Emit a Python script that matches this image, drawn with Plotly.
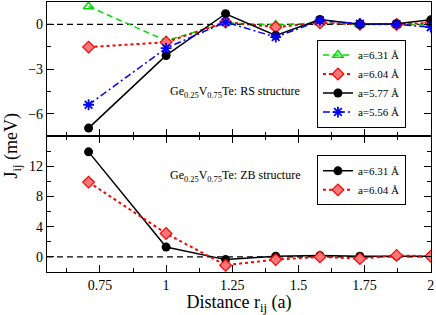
import plotly.graph_objects as go

# ---------------- data ----------------
distance = [0.7071, 1.0, 1.2247, 1.4142, 1.5811, 1.7321, 1.8708, 2.0]

# RS structure (top panel)
rs_a631 = [1.2, -1.1, 0.1, -0.05, 0.1, 0.0, 0.0, -0.05]
rs_a604 = [-1.53, -1.2, 0.15, -0.19, 0.1, 0.0, 0.0, 0.1]
rs_a577 = [-6.97, -2.09, 0.71, -0.74, 0.33, 0.0, 0.04, 0.3]
rs_a556 = [-5.4, -1.6, 0.15, -0.86, 0.26, 0.04, 0.0, -0.19]

# ZB structure (bottom panel)
zb_a631 = [13.9, 1.3, -0.36, 0.08, 0.17, 0.08, 0.1, 0.1]
zb_a604 = [9.9, 3.1, -1.1, -0.36, 0.0, -0.23, 0.2, 0.08]

x_tickvals = [0.75, 1.0, 1.25, 1.5, 1.75, 2.0]
x_ticktext = ["0.75", "1", "1.25", "1.5", "1.75", "2"]
x_minor = [0.625, 0.875, 1.125, 1.375, 1.625, 1.875]
top_tickvals = [-6, -3, 0]
top_minor = [-7.5, -4.5, -1.5, 1.5]
bot_tickvals = [0, 4, 8, 12]
bot_minor = [-2, 2, 6, 10, 14]

FONT = "Liberation Serif"
GREEN = "rgb(0,220,0)"
RED = "rgb(255,0,0)"
BLUE = "rgb(0,0,255)"

fig = go.Figure()

# top panel traces
fig.add_trace(go.Scatter(x=distance, y=rs_a631, name="a=6.31 Å", xaxis="x2", yaxis="y2",
    mode="lines+markers", line=dict(color=GREEN, width=1.5, dash="6px,4px"),
    marker=dict(symbol="triangle-up-open", size=9, color=GREEN, line=dict(width=1.5, color=GREEN)),
    legend="legend"))
fig.add_trace(go.Scatter(x=distance, y=rs_a604, name="a=6.04 Å", xaxis="x2", yaxis="y2",
    mode="lines+markers", line=dict(color=RED, width=2, dash="dot"),
    marker=dict(symbol="diamond", size=9, color="rgb(255,120,120)", line=dict(width=1.2, color=RED)),
    legend="legend"))
fig.add_trace(go.Scatter(x=distance, y=rs_a577, name="a=5.77 Å", xaxis="x2", yaxis="y2",
    mode="lines+markers", line=dict(color="black", width=1.5),
    marker=dict(symbol="circle", size=9, color="black"),
    legend="legend"))
fig.add_trace(go.Scatter(x=distance, y=rs_a556, name="a=5.56 Å", xaxis="x2", yaxis="y2",
    mode="lines+markers", line=dict(color=BLUE, width=1.5, dash="7px,3px,2px,3px"),
    marker=dict(symbol="asterisk-open", size=9, color=BLUE, line=dict(width=1.8, color=BLUE)),
    legend="legend"))

# bottom panel traces
fig.add_trace(go.Scatter(x=distance, y=zb_a631, name="a=6.31 Å", xaxis="x", yaxis="y",
    mode="lines+markers", line=dict(color="black", width=1.5),
    marker=dict(symbol="circle", size=9, color="black"),
    legend="legend2"))
fig.add_trace(go.Scatter(x=distance, y=zb_a604, name="a=6.04 Å", xaxis="x", yaxis="y",
    mode="lines+markers", line=dict(color=RED, width=2, dash="dot"),
    marker=dict(symbol="diamond", size=9, color="rgb(255,120,120)", line=dict(width=1.2, color=RED)),
    legend="legend2"))

# zero reference lines
for yref in ["y", "y2"]:
    fig.add_shape(type="line", xref="paper", x0=0, x1=1, yref=yref, y0=0, y1=0,
                  line=dict(color="black", width=1.2, dash="6px,4px"), layer="below")

split = 0.5037
common_x = dict(range=[0.55, 2.0008], tickvals=x_tickvals, ticktext=x_ticktext,
                ticks="inside", ticklen=7, tickwidth=1, tickcolor="black",
                showline=True, linecolor="black", linewidth=1.3, showgrid=False, zeroline=False,
                minor=dict(tickvals=x_minor, ticks="inside", ticklen=4, tickcolor="black"))

fig.update_layout(
    width=436, height=315,
    margin=dict(l=47, r=5, t=2, b=43),
    paper_bgcolor="white", plot_bgcolor="white",
    font=dict(family=FONT, color="black"),
    xaxis=dict(domain=[0, 1], anchor="y", mirror="ticks", **common_x,
               tickfont=dict(family=FONT, size=14, color="black"),
               title=dict(text="Distance r<sub>ij</sub> (a)", font=dict(family=FONT, size=18), standoff=0)),
    xaxis2=dict(domain=[0, 1], anchor="y2", matches="x", mirror=True, showticklabels=False, **common_x),
    yaxis=dict(domain=[0, split], anchor="x", range=[-2, 16], tickvals=bot_tickvals,
               ticks="inside", ticklen=7, tickcolor="black", mirror="ticks",
               showline=True, linecolor="black", linewidth=1.3, showgrid=False, zeroline=False,
               minor=dict(tickvals=bot_minor, ticks="inside", ticklen=4, tickcolor="black"),
               tickfont=dict(family=FONT, size=14, color="black")),
    yaxis2=dict(domain=[split, 1], anchor="x2", range=[-7.5, 1.5], tickvals=top_tickvals,
                ticks="inside", ticklen=7, tickcolor="black", mirror="ticks",
                showline=True, linecolor="black", linewidth=1.3, showgrid=False, zeroline=False,
                minor=dict(tickvals=top_minor, ticks="inside", ticklen=4, tickcolor="black"),
                tickfont=dict(family=FONT, size=14, color="black")),
    legend=dict(x=0.703, y=0.861, xanchor="left", yanchor="top", bgcolor="white",
                bordercolor="black", borderwidth=1, font=dict(family=FONT, size=11),
                tracegroupgap=0, itemwidth=30),
    legend2=dict(x=0.703, y=0.432, xanchor="left", yanchor="top", bgcolor="white",
                 bordercolor="black", borderwidth=1, font=dict(family=FONT, size=11),
                 tracegroupgap=0, itemwidth=30),
    showlegend=True,
)

fig.add_annotation(text="Ge<sub>0.25</sub>V<sub>0.75</sub>Te: RS structure", xref="paper", yref="paper",
                   x=0.49, y=0.703, showarrow=False, font=dict(family=FONT, size=12))
fig.add_annotation(text="Ge<sub>0.25</sub>V<sub>0.75</sub>Te: ZB structure", xref="paper", yref="paper",
                   x=0.49, y=0.317, showarrow=False, font=dict(family=FONT, size=12))
fig.add_annotation(text="J<sub>ij</sub> (meV)", xref="paper", yref="paper",
                   x=-0.09, xanchor="center", y=0.47, yanchor="middle", textangle=-90,
                   showarrow=False, font=dict(family=FONT, size=18))

fig.write_html("out.html", config={"displayModeBar": False},
               post_script="document.body.style.margin='0';")
